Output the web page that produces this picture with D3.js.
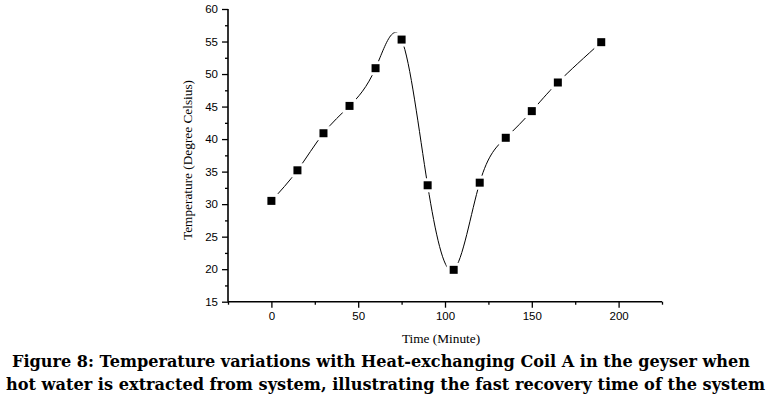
<!DOCTYPE html>
<html><head><meta charset="utf-8">
<script src="https://cdn.jsdelivr.net/npm/d3@7"></script>
<style>body{margin:0;background:#fff}svg{display:block}</style>
</head><body>
<svg id="c" width="773" height="397"></svg>
<script>
const times = [0, 15, 30, 45, 60, 75, 90, 105, 120, 135, 150, 165, 190];
const temps = [30.5, 35.2, 40.9, 45.1, 50.9, 55.3, 32.9, 19.9, 33.3, 40.2, 44.3, 48.7, 54.9];
const xTicks = [0, 50, 100, 150, 200];
const yTicks = [15, 20, 25, 30, 35, 40, 45, 50, 55, 60];
const xLabel = "Time (Minute)";
const yLabel = "Temperature (Degree Celsius)";
const captionLines = [
  "Figure 8: Temperature variations with Heat-exchanging Coil A in the geyser when",
  "hot water is extracted from system, illustrating the fast recovery time of the system"
];

const svg = d3.select("#c");
const x = d3.scaleLinear().domain([-25, 225]).range([228, 662]);
const y = d3.scaleLinear().domain([15, 60]).range([301.7, 9]);

const data = times.map((t, i) => ({t, v: temps[i]}));

// curve
const line = d3.line().x(d => x(d.t)).y(d => y(d.v)).curve(d3.curveNatural);
svg.append("path").datum(data).attr("d", line)
  .attr("fill", "none").attr("stroke", "#000").attr("stroke-width", 1);

// gaps around markers
svg.selectAll("rect.gap").data(data).enter().append("rect")
  .attr("x", d => x(d.t) - 7).attr("y", d => y(d.v) - 7)
  .attr("width", 14).attr("height", 14).attr("fill", "#fff");
svg.selectAll("rect.m").data(data).enter().append("rect")
  .attr("x", d => x(d.t) - 4).attr("y", d => y(d.v) - 4)
  .attr("width", 8).attr("height", 8).attr("fill", "#000");

// axes
const fontTick = "'Liberation Sans', Arial, sans-serif";
const xAxis = d3.axisBottom(x).tickValues(xTicks).tickSize(6).tickPadding(4);
const gx = svg.append("g").attr("transform", `translate(0,${y(15)})`).call(xAxis);
gx.select(".domain").attr("stroke-width", 1.6).attr("d", `M${x(-25)},0H${x(225)}`);
gx.selectAll(".tick line").attr("stroke-width", 1.3);
gx.selectAll("text").attr("font-family", fontTick).attr("font-size", 11.5).attr("fill", "#000");
const xMinor = d3.axisBottom(x).tickValues([-25, 25, 75, 125, 175, 225]).tickSize(3).tickFormat("");
const gxm = svg.append("g").attr("transform", `translate(0,${y(15)})`).call(xMinor);
gxm.select(".domain").remove();
gxm.selectAll(".tick line").attr("stroke-width", 1.3);

const yAxis = d3.axisLeft(y).tickValues(yTicks).tickSize(6).tickPadding(4);
const gy = svg.append("g").attr("transform", `translate(${x(-25)},0)`).call(yAxis);
gy.select(".domain").attr("stroke-width", 1.6).attr("d", `M0,${y(15)}V${y(60)}`);
gy.selectAll(".tick line").attr("stroke-width", 1.3);
gy.selectAll("text").attr("font-family", fontTick).attr("font-size", 11.5).attr("fill", "#000");
const yMinor = d3.axisLeft(y).tickValues(d3.range(17.5, 60, 5)).tickSize(3).tickFormat("");
const gym = svg.append("g").attr("transform", `translate(${x(-25)},0)`).call(yMinor);
gym.select(".domain").remove();
gym.selectAll(".tick line").attr("stroke-width", 1.3);

// axis labels
const serif = "'Liberation Serif', 'Times New Roman', serif";
svg.append("text").attr("x", 441).attr("y", 343).attr("text-anchor", "middle")
  .attr("font-family", serif).attr("font-size", 13.3).text(xLabel);
svg.append("text").attr("transform", `translate(192,160) rotate(-90)`).attr("text-anchor", "middle")
  .attr("font-family", serif).attr("font-size", 13.3).text(yLabel);

// caption
const capSerif = "'DejaVu Serif', serif";
svg.append("text").attr("x", 12).attr("y", 367).attr("textLength", 738).attr("lengthAdjust", "spacingAndGlyphs")
  .attr("font-family", capSerif).attr("font-weight", "bold").attr("font-size", 16).text(captionLines[0]);
svg.append("text").attr("x", 6).attr("y", 390).attr("textLength", 759).attr("lengthAdjust", "spacingAndGlyphs")
  .attr("font-family", capSerif).attr("font-weight", "bold").attr("font-size", 16).text(captionLines[1]);
</script>
</body></html>
